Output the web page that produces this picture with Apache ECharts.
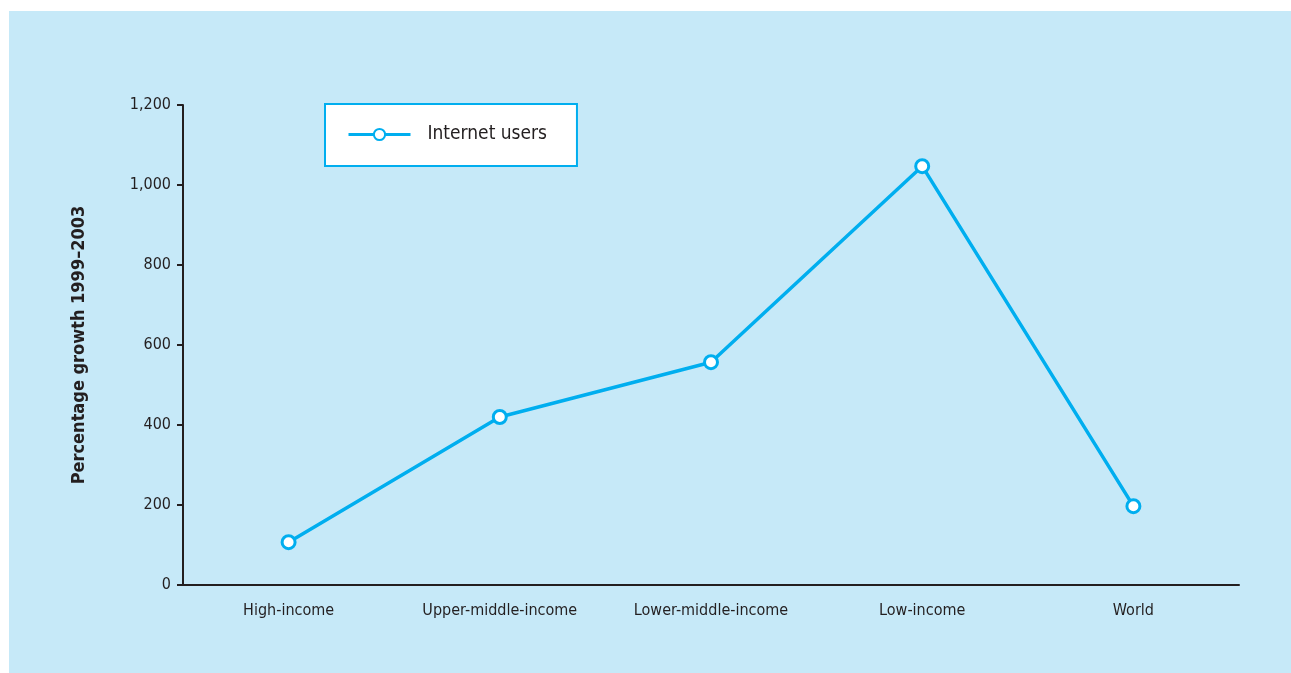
<!DOCTYPE html>
<html lang="en">
<head>
	<meta charset="UTF-8">
	<title>Internet users growth</title>
	<style>
		html, body { margin: 0; padding: 0; background: #ffffff; }
		#chart {
			position: absolute;
			left: 9px; top: 11px;
			width: 1282px; height: 662px;
		}
	</style>
</head>
<body>
	<div id="chart"></div>
	<script src="https://cdn.jsdelivr.net/npm/echarts@6/dist/echarts.min.js"></script>
	<script>
		// 数据
		var categories = ['High-income', 'Upper-middle-income', 'Lower-middle-income', 'Low-income', 'World'];
		var internetUsers = [107, 420, 557, 1047, 197];
		var yTicks = [0, 200, 400, 600, 800, 1000, 1200];

		var font = "'Liberation Sans Narrow', 'DejaVu Sans Condensed', sans-serif";
		var blue = '#00aeef';
		var ink = '#231f20';

		var myChart = echarts.init(document.getElementById('chart'));
		var option = {
			backgroundColor: '#c6e9f8',
			animation: false,
			grid: { left: 174, top: 94, right: 52, bottom: 88 },
			legend: {
				left: 316, top: 93,
				backgroundColor: '#ffffff',
				borderColor: blue,
				borderWidth: 2,
				borderRadius: 0,
				padding: [21, 30, 22, 22],
				itemWidth: 62,
				itemHeight: 14,
				itemGap: 14,
				lineStyle: { width: 3 },
				textStyle: { fontFamily: font, fontSize: 19, color: ink, padding: [0, 0, 0, 12] },
				data: ['Internet users']
			},
			xAxis: {
				type: 'category',
				data: categories,
				boundaryGap: true,
				axisLine: { lineStyle: { color: ink, width: 2 } },
				axisTick: { length: 6, lineStyle: { color: ink, width: 2 } },
				axisLabel: { fontFamily: font, fontSize: 16, color: ink, margin: 18 }
			},
			yAxis: {
				type: 'value',
				min: yTicks[0],
				max: yTicks[yTicks.length - 1],
				interval: 200,
				name: 'Percentage growth 1999\u20132003',
				nameLocation: 'middle',
				nameGap: 95,
				nameTextStyle: { fontFamily: font, fontSize: 18, fontWeight: 'bold', color: ink },
				splitLine: { show: false },
				axisLine: { show: true, lineStyle: { color: ink, width: 2 } },
				axisTick: { show: true, length: 6, lineStyle: { color: ink, width: 2 } },
				axisLabel: {
					fontFamily: font, fontSize: 16, color: ink, margin: 12,
					formatter: function (v) { return v.toLocaleString('en-US'); }
				}
			},
			series: [{
				name: 'Internet users',
				type: 'line',
				data: internetUsers,
				symbol: 'circle',
				symbolSize: 13,
				lineStyle: { color: blue, width: 3.5 },
				itemStyle: { color: '#ffffff', borderColor: blue, borderWidth: 3 }
			}]
		};
		myChart.setOption(option);
	</script>
</body>
</html>
